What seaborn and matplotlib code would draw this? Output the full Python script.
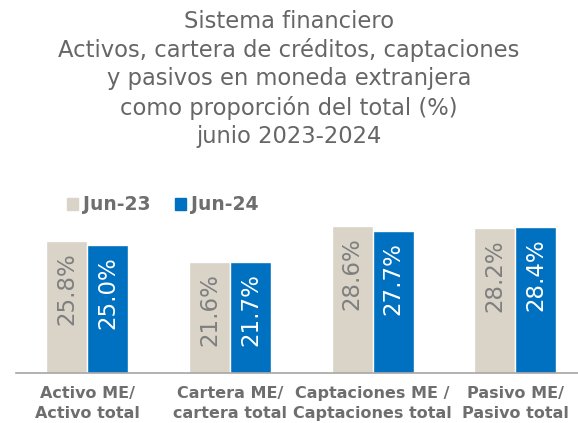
import numpy as np
import pandas as pd
import matplotlib.pyplot as plt
import seaborn as sns

sns.set_style("white")
plt.rcParams['font.family'] = ['DejaVu Sans']

# data
categories = ["Activo ME/\nActivo total", "Cartera ME/\ncartera total",
              "Captaciones ME /\nCaptaciones total", "Pasivo ME/\nPasivo total"]
jun23 = [25.8, 21.6, 28.6, 28.2]
jun24 = [25.0, 21.7, 27.7, 28.4]
periods = ["Jun-23", "Jun-24"]

data = pd.DataFrame({
    "cat": categories * 2,
    "valor": jun23 + jun24,
    "periodo": [periods[0]] * 4 + [periods[1]] * 4,
})

colors = ["#D9D3C8", "#0070C0"]
gray = "#6E6E6E"

fig = plt.figure(figsize=(5.78, 4.23), dpi=100)
ax = fig.add_axes([16 / 578, 50 / 423, 562 / 578, 205 / 423])

sns.barplot(data=data, x="cat", y="valor", hue="periodo", palette=colors,
            width=0.575, gap=0, ax=ax, legend=False, saturation=1)

ax.set_xlim(-0.5, 3.44)
ax.set_ylim(0, 40)
ax.set_xlabel("")
ax.set_ylabel("")
ax.set_yticks([])
for s in ["top", "right", "left"]:
    ax.spines[s].set_visible(False)
ax.spines["bottom"].set_color("#A6A6A6")
ax.spines["bottom"].set_linewidth(1.2)

ax.set_xticks(range(4))
ax.set_xticklabels(categories, fontsize=11.5, fontweight="bold", color=gray, linespacing=1.45)
ax.tick_params(axis="x", which="major", length=0, pad=9)
ax.set_xticks([-0.5, 0.5, 1.5, 2.5], minor=True)
ax.tick_params(axis="x", which="minor", length=5, color="#A6A6A6", width=1.2, direction="out")

# value labels inside bars
txtcol = ["#7F7F7F", "white"]
for cont, tc in zip(ax.containers, txtcol):
    for bar in cont:
        h = bar.get_height()
        ax.annotate(f"{h:.1f}%", (bar.get_x() + bar.get_width() / 2, h),
                    xytext=(0, -8), textcoords="offset points",
                    rotation=90, ha="center", va="top", fontsize=16.5, color=tc)

# legend
handles = [plt.Rectangle((0, 0), 1, 1, color=c) for c in colors]
fig.legend(handles, periods, loc="center left", bbox_to_anchor=(50 / 578, 1 - 205 / 423),
           ncol=2, frameon=False, handlelength=0.6, handleheight=0.6,
           handletextpad=0.25, columnspacing=1.3, prop={"size": 13.5, "weight": "bold"},
           labelcolor=gray)

fig.text(0.5, 1 - 10 / 423, "Sistema financiero\nActivos, cartera de créditos, captaciones\n"
         "y pasivos en moneda extranjera\ncomo proporción del total (%)\njunio 2023-2024",
         ha="center", va="top", fontsize=16.3, color="#666666", linespacing=1.28)

fig.savefig("out.png", dpi=100)
